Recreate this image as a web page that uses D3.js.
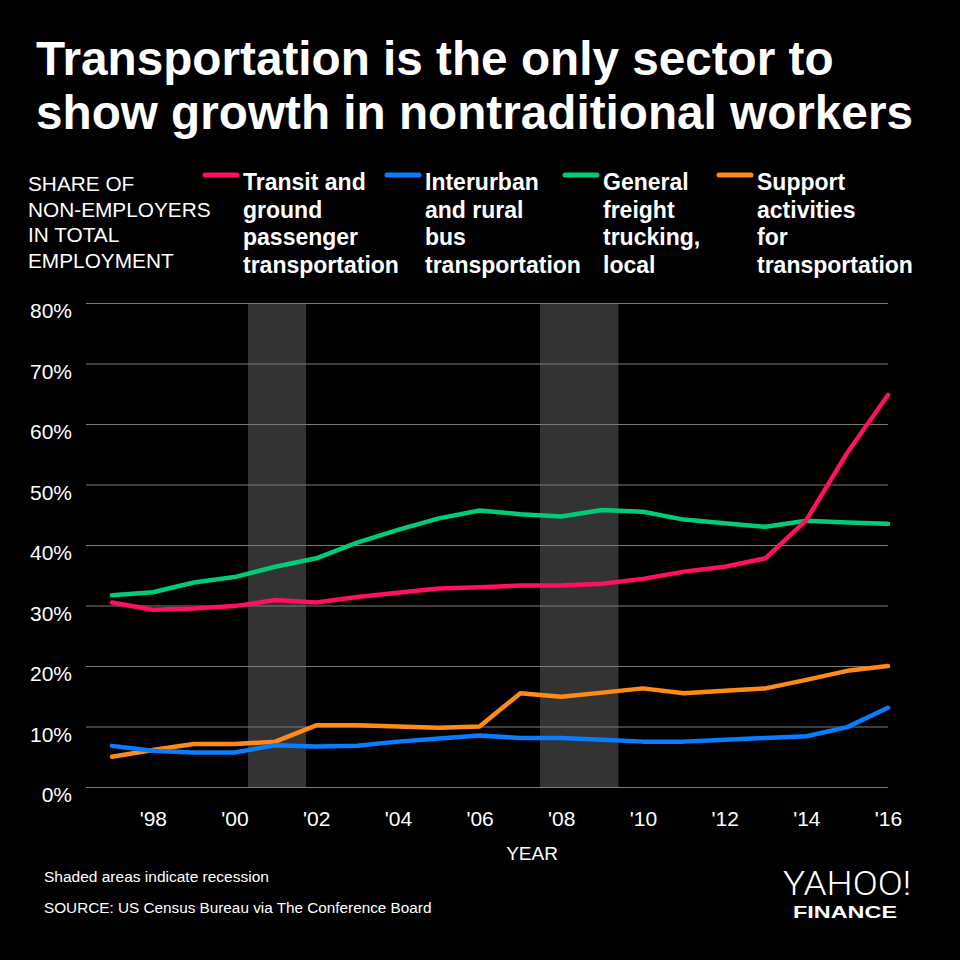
<!DOCTYPE html>
<html><head><meta charset="utf-8">
<script src="https://cdn.jsdelivr.net/npm/d3@7"></script>
<style>body{margin:0;background:#000;} svg{display:block;background:#000;}</style>
</head><body><svg id="c" width="960" height="960"></svg>
<script>
const years = [1997,1998,1999,2000,2001,2002,2003,2004,2005,2006,2007,2008,2009,2010,2011,2012,2013,2014,2015,2016];
const transit    = [30.5,29.3,29.5,29.9,30.9,30.5,31.4,32.1,32.8,33.0,33.3,33.3,33.6,34.4,35.6,36.4,37.8,44.1,55.2,64.8];
const interurban = [6.8,6.0,5.7,5.7,6.9,6.7,6.8,7.5,8.0,8.5,8.1,8.1,7.8,7.5,7.5,7.8,8.1,8.4,9.9,13.1];
const freight    = [31.7,32.2,33.8,34.7,36.4,37.8,40.4,42.5,44.4,45.7,45.1,44.7,45.8,45.5,44.2,43.6,43.0,44.0,43.7,43.5];
const support    = [5.0,6.1,7.1,7.1,7.5,10.2,10.2,10.0,9.8,10.0,15.5,14.9,15.6,16.3,15.5,15.9,16.3,17.7,19.2,20.0];
const seriesNames = [
  ["Transit and","ground","passenger","transportation"],
  ["Interurban","and rural","bus","transportation"],
  ["General","freight","trucking,","local"],
  ["Support","activities","for","transportation"]
];
const seriesColors = ["#ff1060","#0a7dff","#00cc78","#ff8a1a"];
const recessions = [[2000.33,2001.75],[2007.48,2009.4]];
const yTicks = [0,10,20,30,40,50,60,70,80];
const xTicks = [1998,2000,2002,2004,2006,2008,2010,2012,2014,2016];
const titleLines = ["Transportation is the only sector to","show growth in nontraditional workers"];
const yLabelLines = ["SHARE OF","NON-EMPLOYERS","IN TOTAL","EMPLOYMENT"];

const FONT = "'Liberation Sans', Arial, Helvetica, sans-serif";
const svg = d3.select("#c");
svg.append("rect").attr("width",960).attr("height",960).attr("fill","#000");

// title
svg.append("g").selectAll("text").data(titleLines).join("text")
  .attr("x",36).attr("y",(d,i)=>75+i*54)
  .attr("fill","#fff").attr("font-family",FONT).attr("font-weight","bold")
  .attr("font-size",47.7).text(d=>d);

// y label
svg.append("g").selectAll("text").data(yLabelLines).join("text")
  .attr("x",28).attr("y",(d,i)=>191+i*25.5)
  .attr("fill","#fff").attr("font-family",FONT).attr("font-size",20.8).text(d=>d);

// legend
const legendX = [203,385,563,717];
const lg = svg.append("g").selectAll("g").data(seriesNames).join("g")
  .attr("transform",(d,i)=>`translate(${legendX[i]},0)`);
lg.append("line").attr("x1",2).attr("x2",34).attr("y1",175).attr("y2",175)
  .attr("stroke",(d,i)=>seriesColors[i]).attr("stroke-width",5).attr("stroke-linecap","round");
lg.each(function(lines){
  d3.select(this).selectAll("text").data(lines).join("text")
    .attr("x",40).attr("y",(d,i)=>190+i*27.5)
    .attr("fill","#fff").attr("font-family",FONT).attr("font-weight","bold")
    .attr("font-size",23).text(d=>d);
});

// scales
const x = d3.scaleLinear().domain([1997,2016]).range([112,888]);
const y = d3.scaleLinear().domain([0,80]).range([787,303]);

// recession shading
svg.append("g").selectAll("rect").data(recessions).join("rect")
  .attr("x",d=>x(d[0])).attr("width",d=>x(d[1])-x(d[0]))
  .attr("y",y(80)).attr("height",y(0)-y(80)).attr("fill","#333");

// y axis grid
const yAxis = d3.axisLeft(y).tickValues(yTicks).tickSize(888-86).tickPadding(14)
  .tickFormat(d=>d+"%");
const gy = svg.append("g").attr("transform","translate(888,0)").call(yAxis);
gy.select(".domain").remove();
gy.selectAll(".tick line").attr("stroke","#7a7a7a").attr("stroke-width",1.2);
gy.selectAll(".tick text").attr("fill","#fff").attr("font-family",FONT).attr("font-size",21)
  .attr("dy",14.5);

// x axis
const xAxis = d3.axisBottom(x).tickValues(xTicks).tickSize(0)
  .tickFormat(d=>"'"+String(d).slice(2));
const gx = svg.append("g").attr("transform",`translate(0,${y(0)})`).call(xAxis);
gx.select(".domain").remove();
gx.selectAll(".tick text").attr("fill","#fff").attr("font-family",FONT).attr("font-size",21)
  .attr("y",39).attr("dy",0);

svg.append("text").attr("x",532).attr("y",860).attr("text-anchor","middle")
  .attr("fill","#fff").attr("font-family",FONT).attr("font-size",19).text("YEAR");

// lines
const series = [
  {vals:support, c:seriesColors[3]},
  {vals:interurban, c:seriesColors[1]},
  {vals:freight, c:seriesColors[2]},
  {vals:transit, c:seriesColors[0]}
];
const line = d3.line().x((d,i)=>x(years[i])).y(d=>y(d));
svg.append("g").selectAll("path").data(series).join("path")
  .attr("d",d=>line(d.vals)).attr("fill","none").attr("stroke",d=>d.c)
  .attr("stroke-width",4.5).attr("stroke-linejoin","round").attr("stroke-linecap","round");

// footer
svg.append("text").attr("x",44).attr("y",882).attr("fill","#fff").attr("font-family",FONT)
  .attr("font-size",15.5).text("Shaded areas indicate recession");
svg.append("text").attr("x",44).attr("y",913).attr("fill","#fff").attr("font-family",FONT)
  .attr("font-size",15.3).text("SOURCE: US Census Bureau via The Conference Board");

// logo
svg.append("text").attr("x",783).attr("y",895).attr("fill","#fff")
  .attr("font-family","Roboto, 'Liberation Sans', sans-serif").attr("font-weight",300)
  .attr("font-size",34).attr("textLength",128).attr("lengthAdjust","spacingAndGlyphs").text("YAHOO!");
svg.append("text").attr("x",793).attr("y",918).attr("fill","#fff")
  .attr("font-family",FONT).attr("font-weight","bold")
  .attr("font-size",17).attr("textLength",104).attr("lengthAdjust","spacingAndGlyphs").text("FINANCE");
</script></body></html>
